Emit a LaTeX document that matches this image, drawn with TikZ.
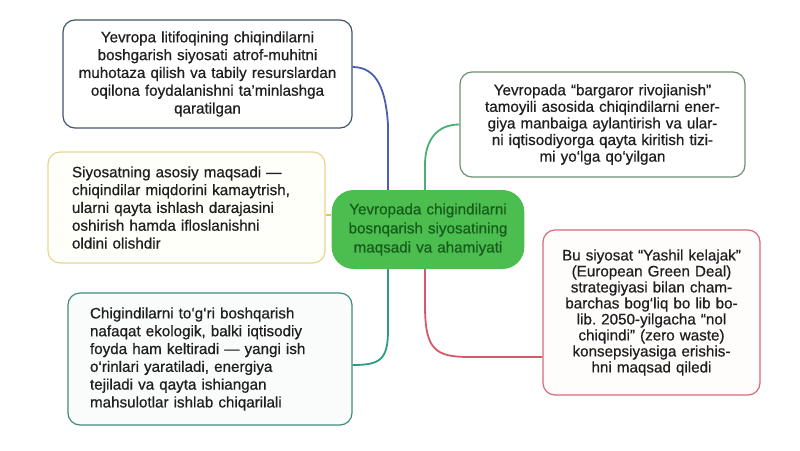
\documentclass[tikz,border=0pt]{standalone}
\usepackage{fontspec}
\setmainfont{Liberation Sans}
\usepackage{tikz}
\frenchspacing

\definecolor{tlblue}{HTML}{3E5670}
\definecolor{trgreen}{HTML}{6E8E74}
\definecolor{mlgold}{HTML}{E8D592}
\definecolor{blteal}{HTML}{3F8C7E}
\definecolor{brred}{HTML}{D66A78}
\definecolor{ctrfill}{HTML}{4CBE50}
\definecolor{ctrtext}{HTML}{165C1A}
\definecolor{lnblue}{HTML}{4A5FB0}
\definecolor{lngreen}{HTML}{48B070}
\definecolor{lnyellow}{HTML}{E8C64E}
\definecolor{lnteal}{HTML}{2E9A88}
\definecolor{lnred}{HTML}{D45A6A}
\newcommand{\boxtext}{\fontsize{15.2}{17.8}\selectfont\addfontfeature{FakeBold=0.6}}

\begin{document}
\begin{tikzpicture}[x=1pt,y=-1pt,
    box/.style={draw,rounded corners=12pt,line width=1.2pt,fill=white,inner sep=0pt,
      font=\boxtext,text=black!88},
    link/.style={line width=1.8pt}]
    % Ramka
    \useasboundingbox (0,0) rectangle (800,450);
    % Markaziy tugun
    \node[fill=ctrfill,rounded corners=22pt,minimum width=190pt,minimum height=79pt,
      text width=186pt,align=center,text=ctrtext,font=\boxtext\linespread{1.07}\selectfont]
      (ctr) at (428,229.5) {Yevropada chigindilarni\\bosnqarish siyosatining\\maqsadi va ahamiyati};
    % Qutilar
    \node[box,draw=tlblue,minimum width=289pt,minimum height=108pt,text width=275pt,align=center]
      (tl) at (207.5,74) {Yevropa litifoqining chiqindilarni\\boshgarish siyosati atrof-muhitni\\muhotaza qilish va tabily resurslardan\\oqilona foydalanishni ta’minlashga\\qaratilgan};
    \node[box,draw=trgreen,minimum width=285pt,minimum height=105pt,text width=270pt,align=center,
      font=\boxtext\fontsize{15.2}{16.6}\selectfont]
      (tr) at (602.5,124.5) {Yevropada “bargaror rivojianish”\\tamoyili asosida chiqindilarni ener-\\giya manbaiga aylantirish va ular-\\ni iqtisodiyorga qayta kiritish tizi-\\mi yo‘lga qo‘yilgan};
    \node[box,draw=mlgold,fill=yellow!2,minimum width=277pt,minimum height=111pt,text width=229pt,align=left]
      (ml) at (186.5,207.5) {Siyosatning asosiy maqsadi —\\chiqindilar miqdorini kamaytrish,\\ularni qayta ishlash darajasini\\oshirish hamda ifloslanishni\\oldini olishdir};
    \node[box,draw=blteal,fill=teal!2,minimum width=284pt,minimum height=132pt,text width=240pt,align=left]
      (bl) at (210,359) {Chigindilarni to‘g‘ri boshqarish\\nafaqat ekologik, balki iqtisodiy\\foyda ham keltiradi — yangi ish\\o‘rinlari yaratiladi, energiya\\tejiladi va qayta ishiangan\\mahsulotlar ishlab chiqarilali};
    \node[box,draw=brred,fill=red!1,minimum width=217pt,minimum height=165pt,text width=205pt,align=center,
      font=\boxtext\fontsize{15.2}{16}\selectfont]
      (br) at (651.5,312.5) {Bu siyosat “Yashil kelajak”\\(European Green Deal)\\strategiyasi bilan cham-\\barchas bog‘liq bo lib bo-\\lib. 2050-yilgacha “nol\\chiqindi” (zero waste)\\konsepsiyasiga erishis-\\hni maqsad qiledi};
    % Ulanish nuqtalari
    \coordinate (tlout) at ([yshift=7pt]tl.east);
    \coordinate (ctrtl) at ([xshift=-40pt]ctr.north);
    \coordinate (ctrtr) at ([xshift=-3pt]ctr.north);
    \coordinate (ctrbl) at ([xshift=-40pt]ctr.south);
    \coordinate (ctrbr) at ([xshift=-3pt]ctr.south);
    \coordinate (ymid) at (329,215);
    \coordinate (blin) at ([yshift=-6pt]bl.east);
    \coordinate (brin) at ([yshift=-44.5pt]br.west);
    % Chiziqlar
    \draw[link,lnblue] (tlout) .. controls (378,67) and (386,92) .. (ctrtl |- 0,125) -- (ctrtl);
    \draw[link,lngreen] (tr.west) .. controls (437,124.5) and (425,140) .. (ctrtr |- 0,165) -- (ctrtr);
    \draw[link,lnyellow] (ml.east |- ymid) -- (ctr.west |- ymid);
    \draw[link,lnteal] (ctrbl) -- (ctrbl |- 0,330) .. controls (388,360) and (380,365) .. (blin);
    \draw[link,lnred] (ctrbr) -- (ctrbr |- 0,305) .. controls (425,350) and (435,357) .. (470,357) -- (brin);
\end{tikzpicture}
\end{document}
